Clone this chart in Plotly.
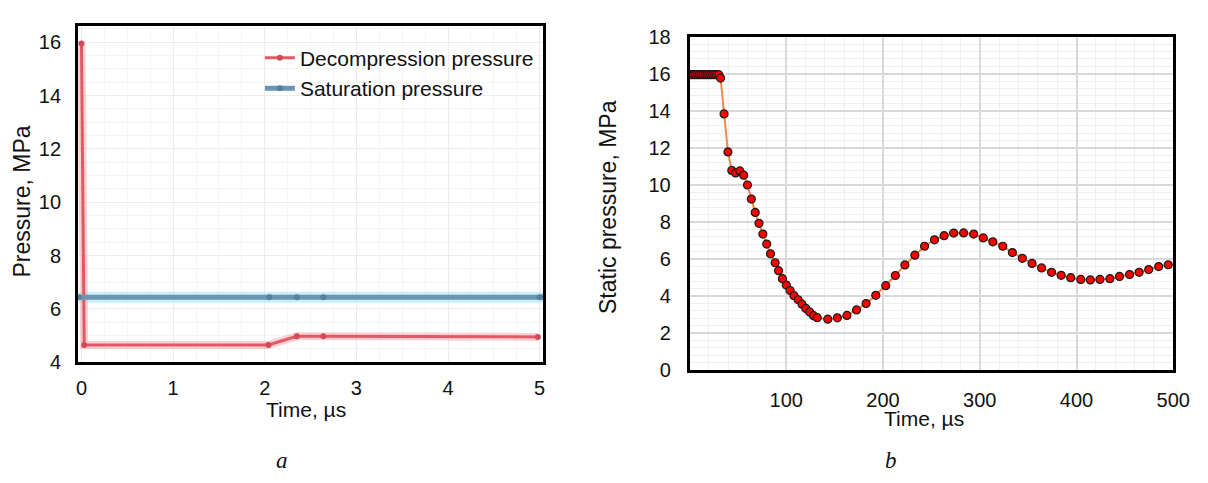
import plotly.graph_objects as go

# ---- Panel a data ----
a_time = [0.0, 0.03, 2.04, 2.35, 2.64, 4.98]
a_decomp = [15.95, 4.65, 4.65, 4.97, 4.97, 4.95]
a_sat_time = [-0.03, 2.05, 2.35, 2.64, 5.0, 5.04]
a_sat = [6.44, 6.44, 6.44, 6.44, 6.44, 6.44]
a_xticks = [0, 1, 2, 3, 4, 5]
a_yticks = [4, 6, 8, 10, 12, 14, 16]

# ---- Panel b data ----
b_time = [0, 2, 4, 6, 8, 10, 12, 14, 16, 18, 20, 22, 24, 26, 28, 30.2,
          32.1, 35.7, 39.7, 43.7, 47.6, 52.0, 56.0, 59.9, 63.9, 67.9, 71.8,
          75.8, 79.8, 83.7, 88.5, 92.0, 96.0, 100.0, 104.0, 108.0, 112.3,
          116.3, 120.2, 124.2, 128.2, 132.0, 142.9, 152.8, 162.7, 172.6,
          182.5, 192.5, 202.8, 212.7, 222.6, 232.9, 242.9, 253.2, 263.1,
          273.0, 283.3, 293.7, 303.6, 313.5, 323.8, 333.7, 344.0, 354.0,
          363.9, 374.2, 384.1, 394.0, 404.4, 414.3, 424.2, 434.5, 444.4,
          454.8, 464.7, 474.6, 484.9, 494.8]
b_pressure = [15.95, 15.95, 15.95, 15.95, 15.95, 15.95, 15.95, 15.95, 15.95,
              15.95, 15.95, 15.95, 15.95, 15.95, 15.95, 15.95,
              15.77, 13.83, 11.78, 10.78, 10.64, 10.75, 10.52, 9.99, 9.23,
              8.51, 7.92, 7.34, 6.80, 6.27, 5.79, 5.36, 4.93, 4.58, 4.29,
              4.01, 3.79, 3.55, 3.32, 3.13, 2.93, 2.82, 2.74, 2.81, 2.94,
              3.24, 3.58, 4.03, 4.55, 5.10, 5.67, 6.20, 6.68, 7.03, 7.25,
              7.39, 7.40, 7.34, 7.13, 6.92, 6.68, 6.34, 6.03, 5.75, 5.51,
              5.27, 5.11, 4.98, 4.89, 4.86, 4.89, 4.93, 5.05, 5.15, 5.27,
              5.42, 5.58, 5.68]
b_xticks = [100, 200, 300, 400, 500]
b_yticks = [0, 2, 4, 6, 8, 10, 12, 14, 16, 18]

W, H = 1208, 483
FONT = "Liberation Sans, Arial, sans-serif"

def px(x):
    return x / W

def py(y):
    return 1 - y / H

fig = go.Figure()

# Panel a: halos
fig.add_trace(go.Scatter(x=a_sat_time, y=a_sat, mode="lines",
                         line=dict(color="rgba(160,225,245,0.55)", width=11),
                         showlegend=False, hoverinfo="skip",
                         xaxis="x", yaxis="y"))
fig.add_trace(go.Scatter(x=a_time, y=a_decomp, mode="lines",
                         line=dict(color="rgba(250,150,160,0.45)", width=8),
                         showlegend=False, hoverinfo="skip",
                         xaxis="x", yaxis="y"))
# Panel a: main lines
fig.add_trace(go.Scatter(x=a_time, y=a_decomp, mode="lines+markers",
                         name="Decompression pressure",
                         line=dict(color="#e05a66", width=3),
                         marker=dict(color="#d04a58", size=6),
                         xaxis="x", yaxis="y"))
fig.add_trace(go.Scatter(x=a_sat_time, y=a_sat, mode="lines+markers",
                         name="Saturation pressure",
                         line=dict(color="#6a94b4", width=5),
                         marker=dict(color="#55809f", size=6),
                         xaxis="x", yaxis="y"))

# Panel b
fig.add_trace(go.Scatter(x=b_time, y=b_pressure, mode="lines+markers",
                         line=dict(color="#f08a45", width=2),
                         marker=dict(color="#ff0000", size=8,
                                     line=dict(color="#1a1a1a", width=1.2)),
                         showlegend=False, xaxis="x2", yaxis="y2"))

common_axis = dict(showline=True, linecolor="black", linewidth=2.5,
                   mirror=True, ticks="", zeroline=False,
                   tickfont=dict(family=FONT, size=20, color="#111"))

fig.update_layout(
    width=W, height=H,
    margin=dict(l=0, r=0, t=0, b=0),
    paper_bgcolor="white", plot_bgcolor="white",
    xaxis=dict(domain=[px(77), px(550)], range=[-0.04, 5.04],
               tickvals=a_xticks, showgrid=True, gridcolor="#ececec",
               gridwidth=1, ticklabelstandoff=6,
               minor=dict(dtick=0.25, tick0=0, showgrid=True,
                          gridcolor="#f6f3f3", gridwidth=1),
               anchor="y", **common_axis),
    yaxis=dict(domain=[py(368), py(16)], range=[4, 16.6],
               tickvals=a_yticks, showgrid=True, gridcolor="#ececec",
               gridwidth=1, ticklabelstandoff=10,
               minor=dict(dtick=0.5, tick0=4, showgrid=True,
                          gridcolor="#f6f3f3", gridwidth=1),
               anchor="x", **common_axis),
    xaxis2=dict(domain=[px(698.5), px(1190)], range=[0, 500],
                tickvals=b_xticks, showgrid=True, gridcolor="#d9d9d9",
                gridwidth=1.5, ticklabelstandoff=10,
                minor=dict(dtick=20, tick0=0, showgrid=True,
                           gridcolor="#efefef", gridwidth=1),
                anchor="y2", **common_axis),
    yaxis2=dict(domain=[py(376), py(27)], range=[0, 18],
                tickvals=b_yticks, showgrid=True, gridcolor="#d9d9d9",
                gridwidth=1.5, ticklabelstandoff=12,
                minor=dict(dtick=0.4, tick0=0, showgrid=True,
                           gridcolor="#efefef", gridwidth=1),
                anchor="x2", **common_axis),
    legend=dict(x=px(262), y=py(28), xanchor="left", yanchor="top",
                bgcolor="rgba(255,255,255,0)", borderwidth=0,
                font=dict(family=FONT, size=21, color="#111"),
                itemwidth=30, tracegroupgap=2),
    showlegend=True,
)

annots = [
    dict(text="Time, µs", x=px(309), y=py(418), size=21, family=FONT, angle=0),
    dict(text="Pressure, MPa", x=px(20), y=py(200), size=23, family=FONT, angle=-90),
    dict(text="Time, µs", x=px(937), y=py(427), size=21, family=FONT, angle=0),
    dict(text="Static pressure, MPa", x=px(615), y=py(205), size=23, family=FONT, angle=-90),
    dict(text="<i>a</i>", x=px(284), y=py(471), size=23, family="Liberation Serif, Times New Roman, serif", angle=0),
    dict(text="<i>b</i>", x=px(903), y=py(471), size=23, family="Liberation Serif, Times New Roman, serif", angle=0),
]
for a in annots:
    fig.add_annotation(text=a["text"], x=a["x"], y=a["y"], xref="paper", yref="paper",
                       xanchor="center", yanchor="middle", showarrow=False,
                       textangle=a["angle"],
                       font=dict(family=a["family"], size=a["size"], color="#111"))

fig.write_html("out.html")
